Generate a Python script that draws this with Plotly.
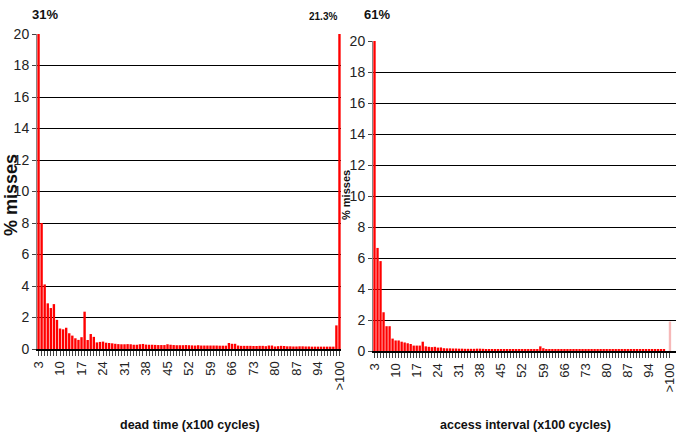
import plotly.graph_objects as go

# ---- data ----
categories = [str(i) for i in range(3, 101)] + [">100"]
tick_labels = ["3", "10", "17", "24", "31", "38", "45", "52", "59", "66", "73", "80", "87", "94", ">100"]

dead_time = [
    31, 8.0, 4.1, 2.9, 2.6, 2.85, 1.85, 1.3, 1.25, 1.35,
    1.0, 0.85, 0.68, 0.58, 0.75, 2.37, 0.57, 0.95, 0.77, 0.42,
    0.45, 0.47, 0.4, 0.38, 0.36, 0.33, 0.31, 0.3, 0.3, 0.31,
    0.3, 0.27, 0.27, 0.3, 0.32, 0.28, 0.27, 0.27, 0.26, 0.25,
    0.25, 0.25, 0.3, 0.27, 0.25, 0.24, 0.24, 0.24, 0.25, 0.24,
    0.23, 0.22, 0.24, 0.22, 0.22, 0.22, 0.22, 0.22, 0.22, 0.21,
    0.21, 0.21, 0.38, 0.33, 0.33, 0.22, 0.2, 0.2, 0.2, 0.2,
    0.19, 0.19, 0.2, 0.2, 0.18, 0.22, 0.22, 0.16, 0.18, 0.2,
    0.19, 0.17, 0.17, 0.16, 0.16, 0.17, 0.17, 0.16, 0.16, 0.15,
    0.15, 0.15, 0.15, 0.15, 0.15, 0.15, 0.15, 1.5, 21.3,
]

access_interval = [
    61, 6.65, 5.8, 2.5, 1.6, 1.6, 0.8, 0.68, 0.68, 0.6,
    0.55, 0.5, 0.45, 0.35, 0.35, 0.35, 0.6, 0.3, 0.27, 0.25,
    0.27, 0.22, 0.23, 0.18, 0.17, 0.17, 0.16, 0.16, 0.15, 0.15,
    0.14, 0.14, 0.14, 0.14, 0.15, 0.15, 0.14, 0.13, 0.13, 0.12,
    0.12, 0.11, 0.11, 0.1, 0.1, 0.1, 0.1, 0.1, 0.1, 0.1,
    0.1, 0.1, 0.1, 0.1, 0.1, 0.3, 0.18, 0.1, 0.09, 0.09,
    0.09, 0.09, 0.09, 0.09, 0.09, 0.09, 0.09, 0.09, 0.09, 0.09,
    0.09, 0.09, 0.09, 0.08, 0.08, 0.08, 0.08, 0.08, 0.08, 0.08,
    0.08, 0.08, 0.08, 0.08, 0.08, 0.08, 0.08, 0.08, 0.08, 0.08,
    0.08, 0.08, 0.08, 0.08, 0.08, 0.08, 0.08, 0, 1.9,
]

top_labels_left = ["31%", "21.3%"]
top_label_right = "61%"

# ---- figure ----
W, H = 676, 440
RED = "#ff0000"
SANS = "Liberation Sans, Arial, sans-serif"

ticktext = [c if c in tick_labels else "" for c in categories]
colors_right = [RED] * (len(access_interval) - 1) + ["#f6b8b8"]

fig = go.Figure()
fig.add_trace(go.Bar(x=categories, y=dead_time, xaxis="x", yaxis="y",
                     marker=dict(color=RED, line=dict(width=0)), hoverinfo="x+y"))
fig.add_trace(go.Bar(x=categories, y=access_interval, xaxis="x2", yaxis="y2",
                     marker=dict(color=colors_right, line=dict(width=0)), hoverinfo="x+y"))

def xax(domain, rng, anchor):
    return dict(domain=domain, anchor=anchor, type="category", range=rng, automargin=False,
                tickmode="array", tickvals=categories, ticktext=ticktext,
                tickangle=-90, ticks="outside", ticklen=5, tickwidth=1, tickcolor="#444",
                showline=True, linecolor="black", linewidth=2, showgrid=False,
                tickfont=dict(family=SANS, size=13, color="#222"), fixedrange=True)

def yax(domain, anchor):
    return dict(domain=domain, anchor=anchor, range=[0, 20], dtick=2, tick0=0, automargin=False,
                showgrid=True, gridcolor="black", gridwidth=1, zeroline=False,
                ticks="outside", ticklen=4, tickcolor="#444",
                showline=True, linecolor="#888", linewidth=1,
                tickfont=dict(family=SANS, size=14, color="#222"), fixedrange=True)

fig.update_layout(
    width=W, height=H,
    margin=dict(l=0, r=0, t=0, b=0, autoexpand=False),
    paper_bgcolor="white", plot_bgcolor="white",
    showlegend=False, bargap=0.22,
    xaxis=xax([37 / W, 341 / W], [-0.5, 98.5], "y"),
    yaxis=yax([91 / H, 406 / H], "x"),
    xaxis2=xax([373 / W, 1.0], [-0.5, 100.0], "y2"),
    yaxis2=yax([89 / H, 399 / H], "x2"),
)

def px_ann(text, x, y, size, angle=0, bold=True):
    fig.add_annotation(text=f"<b>{text}</b>" if bold else text,
                       x=x / W, y=1 - y / H, xref="paper", yref="paper",
                       xanchor="center", yanchor="middle", showarrow=False,
                       textangle=angle, font=dict(family=SANS, size=size, color="#111"))

px_ann(top_labels_left[0], 45, 14, 13)
px_ann(top_labels_left[1], 323, 17, 10)
px_ann(top_label_right, 377, 15, 13)
px_ann("dead time (x100 cycles)", 190, 425, 12.5)
px_ann("access interval (x100 cycles)", 525, 425, 12.5)
px_ann("% misses", 11, 195, 18, angle=-90)
px_ann("% misses", 346, 195, 11, angle=-90)

fig.write_html("out.html", config={"displayModeBar": False},
               post_script="document.body.style.margin='0';document.body.style.overflow='hidden';")
